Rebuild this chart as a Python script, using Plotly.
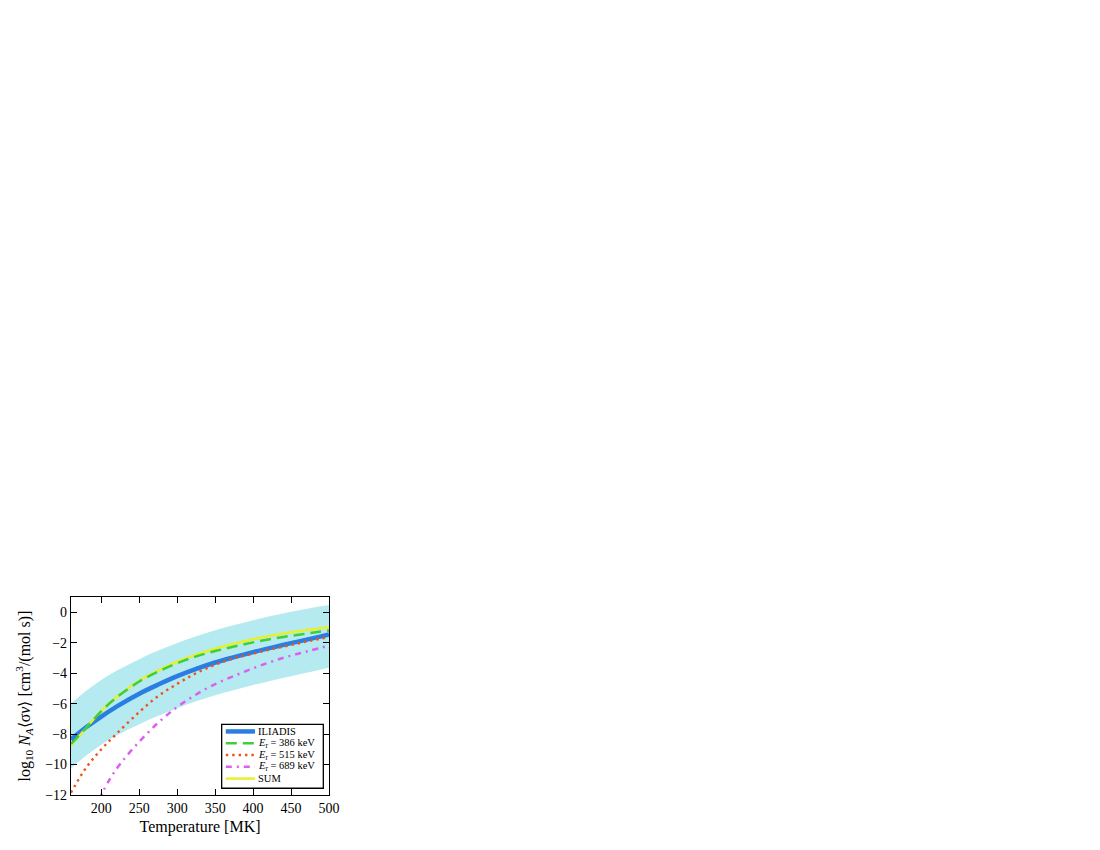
import plotly.graph_objects as go

# Temperature grid [MK]
T = [160, 180, 200, 220, 250, 275, 300, 325, 350, 375, 400, 425, 450, 475, 500]

# log10 rates
iliadis = [-8.35, -7.55, -6.85, -6.2, -5.35, -4.75, -4.2, -3.72, -3.3, -2.95, -2.62, -2.32, -2.03, -1.75, -1.45]
band_upper = [-6.0, -5.15, -4.45, -3.85, -3.08, -2.52, -2.02, -1.58, -1.19, -0.84, -0.52, -0.23, 0.03, 0.26, 0.47]
band_lower = [-10.25, -9.4, -8.7, -8.1, -7.35, -6.8, -6.3, -5.85, -5.45, -5.1, -4.78, -4.48, -4.2, -3.93, -3.65]
er386 = [-8.65, -7.6, -6.5, -5.6, -4.55, -3.9, -3.35, -2.9, -2.55, -2.25, -1.98, -1.75, -1.55, -1.37, -1.2]
er515 = [-11.85, -10.2, -9.0, -7.98, -6.55, -5.5, -4.7, -4.0, -3.45, -3.02, -2.72, -2.42, -2.15, -1.88, -1.62]
T689 = [197, 210, 225, 250, 275, 300, 325, 350, 375, 400, 425, 450, 475, 500]
er689 = [-12.3, -11.05, -9.95, -8.5, -7.25, -6.22, -5.4, -4.72, -4.18, -3.68, -3.23, -2.85, -2.52, -2.2]
sumrate = [-8.75, -7.6, -6.48, -5.57, -4.5, -3.83, -3.25, -2.78, -2.4, -2.07, -1.78, -1.53, -1.32, -1.14, -0.98]

x_ticks = [200, 250, 300, 350, 400, 450, 500]
y_ticks = [-12, -10, -8, -6, -4, -2, 0]

legend_labels = ["ILIADIS",
                 "<i>E</i><sub>r</sub> = 386 keV",
                 "<i>E</i><sub>r</sub> = 515 keV",
                 "<i>E</i><sub>r</sub> = 689 keV",
                 "SUM"]

FONT = "Liberation Serif"
C_BLUE, C_GREEN, C_RED, C_MAG, C_YEL, C_BAND = "#2a7de1", "#3ccf3c", "#f0501a", "#dd5ff0", "#e8f02a", "#b4eaf0"

styles = [
    dict(color=C_BLUE, width=4.5),
    dict(color=C_GREEN, width=2.5, dash="11px,6px"),
    dict(color=C_RED, width=2.4, dash="2.4px,4px"),
    dict(color=C_MAG, width=2.5, dash="6px,5px,2px,5px"),
    dict(color=C_YEL, width=2.5),
]

fig = go.Figure()

fig.add_trace(go.Scatter(x=T, y=band_lower, mode="lines", line=dict(width=0, shape="spline"),
                         showlegend=False, hoverinfo="skip"))
fig.add_trace(go.Scatter(x=T, y=band_upper, mode="lines", line=dict(width=0, shape="spline"),
                         fill="tonexty", fillcolor=C_BAND,
                         showlegend=False, hoverinfo="skip"))

fig.add_trace(go.Scatter(x=T, y=iliadis, mode="lines", name=legend_labels[0],
                         line=dict(**styles[0], shape="spline"), showlegend=False))
fig.add_trace(go.Scatter(x=T, y=sumrate, mode="lines", name=legend_labels[4],
                         line=dict(**styles[4], shape="spline"), showlegend=False))
fig.add_trace(go.Scatter(x=T, y=er386, mode="lines", name=legend_labels[1],
                         line=dict(**styles[1], shape="spline"), showlegend=False))
fig.add_trace(go.Scatter(x=T, y=er515, mode="lines", name=legend_labels[2],
                         line=dict(**styles[2], shape="spline"), showlegend=False))
fig.add_trace(go.Scatter(x=T689, y=er689, mode="lines", name=legend_labels[3],
                         line=dict(**styles[3], shape="spline"), showlegend=False))

# compact legend box (matplotlib-style) inside the axes
shapes = [dict(type="rect", xref="x domain", yref="y domain",
               x0=0.584, x1=0.978, y0=0.034, y1=0.357,
               line=dict(color="black", width=1.3), fillcolor="white", layer="above")]
annotations = []
row_y = [0.321, 0.261, 0.202, 0.143, 0.083]
for lbl, st, yy in zip(legend_labels, styles, row_y):
    shapes.append(dict(type="line", xref="x domain", yref="y domain",
                       x0=0.60, x1=0.713, y0=yy, y1=yy, layer="above",
                       line=dict(color=st["color"], width=st["width"], dash=st.get("dash", "solid"))))
    annotations.append(dict(xref="x domain", yref="y domain", x=0.718, y=yy,
                            text=lbl, showarrow=False, xanchor="left", yanchor="middle",
                            font=dict(family=FONT, size=10.5, color="black")))

axis_common = dict(showline=True, linecolor="black", linewidth=1.2, mirror="ticks",
                   ticks="inside", ticklen=6, tickcolor="black", tickwidth=1,
                   showgrid=False, zeroline=False,
                   tickfont=dict(family=FONT, size=14, color="black"))

fig.update_xaxes(range=[160, 500], tickvals=x_ticks,
                 title=dict(text="Temperature [MK]", font=dict(family=FONT, size=16, color="black"),
                            standoff=5),
                 **axis_common)
fig.update_yaxes(range=[-12, 1], tickvals=y_ticks,
                 title=dict(text="log<sub>10</sub> <i>N</i><sub><i>A</i></sub>⟨σ<i>v</i>⟩ [cm<sup>3</sup>/(mol s)]",
                            font=dict(family=FONT, size=16, color="black"), standoff=10),
                 **axis_common)

fig.update_layout(
    width=1084, height=834,
    margin=dict(l=63, r=763, t=589, b=47, autoexpand=False),
    plot_bgcolor="white", paper_bgcolor="white",
    font=dict(family=FONT, color="black"),
    shapes=shapes, annotations=annotations,
    showlegend=False,
)

fig.write_html("out.html")
